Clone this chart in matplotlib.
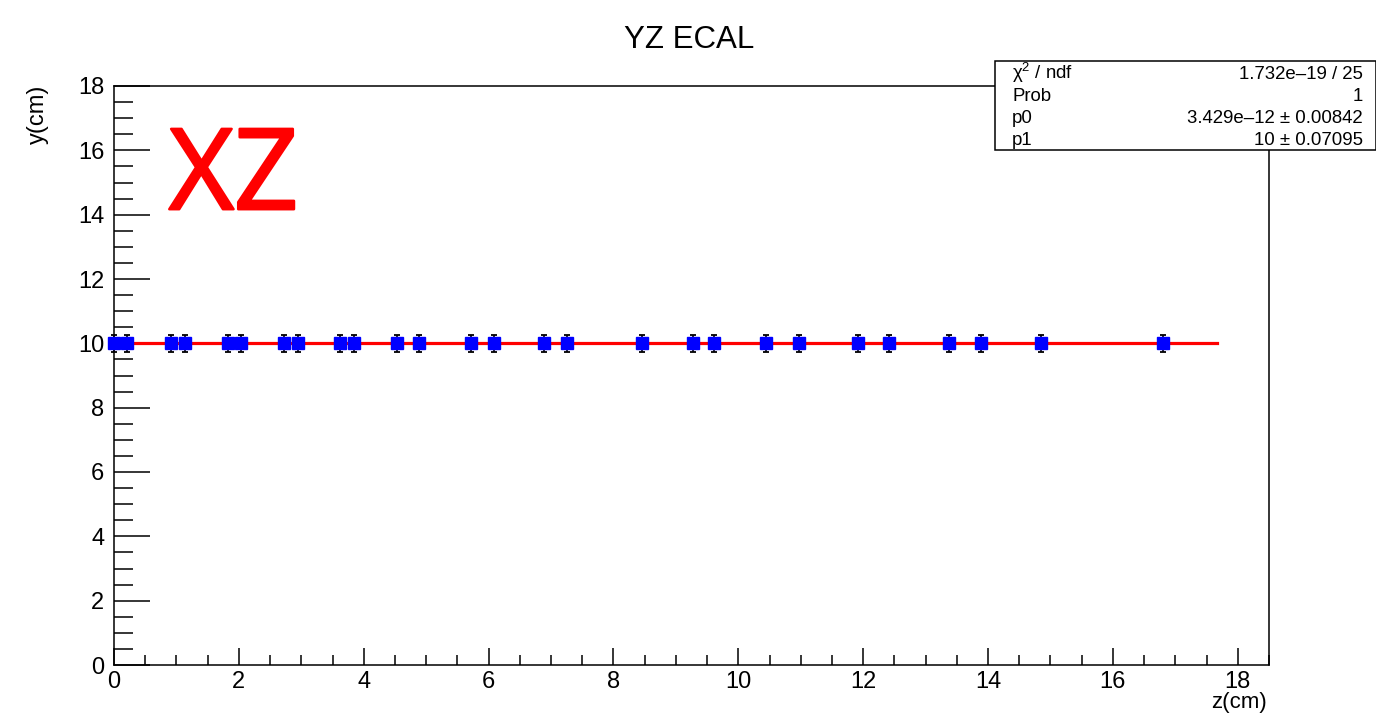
import matplotlib
matplotlib.use("Agg")
import matplotlib.pyplot as plt
import matplotlib.patheffects as pe
from matplotlib import font_manager
from matplotlib.patches import Rectangle
from matplotlib.ticker import MultipleLocator

# hit positions along z (cm) and y (cm)
z_pos = [0.0, 0.21, 0.91, 1.14, 1.83, 2.04, 2.72, 2.94, 3.62, 3.84,
         4.53, 4.89, 5.72, 6.09, 6.89, 7.25, 8.45, 9.28, 9.61, 10.44,
         10.97, 11.91, 12.42, 13.37, 13.89, 14.85, 16.80]
y_pos = [10.0] * len(z_pos)
y_err = [0.26] * len(z_pos)

# fit: y = p0*z + p1
p0 = 3.429e-12
p1 = 10.0
fit_range = [0.0, 17.67]

stats_names = [r"$\mathregular{\chi^{2}}$ / ndf", "Prob", "p0", "p1"]
stats_vals = ["1.732e\u201319 / 25", "1", "3.429e\u201312 \u00b1 0.00842", "10 \u00b1 0.07095"]

plt.rcParams["font.family"] = ["Liberation Sans", "DejaVu Sans"]


def pick_font(names):
    # look the font file up directly, prefer regular upright
    for want in names:
        hits = [f for f in font_manager.fontManager.ttflist
                if f.name == want and f.style == "normal"]
        if hits:
            hits.sort(key=lambda f: abs(int(f.weight) - 400) if str(f.weight).isdigit() else 100)
            return font_manager.FontProperties(fname=hits[0].fname, size=81)
    return font_manager.FontProperties(family="DejaVu Sans", size=81)


fig = plt.figure(figsize=(13.76, 7.13), dpi=100)
ax = fig.add_axes([114 / 1376, 1 - 665 / 713, (1269 - 114) / 1376, (665 - 86) / 713])

ax.set_xlim(0, 18.5)
ax.set_ylim(0, 18)

fit_y = [p0 * z + p1 for z in fit_range]
ax.plot(fit_range, fit_y, color="red", lw=2.3, zorder=3, clip_on=False)

line, caps, bars = ax.errorbar(z_pos, y_pos, yerr=y_err, fmt="s", color="blue",
                               ms=8.7, ecolor="black", elinewidth=1.2,
                               capsize=2.5, capthick=1.3, zorder=4, clip_on=False)
for c in caps:
    c.set_zorder(5)
for b in bars:
    b.set_zorder(3.5)

ax.xaxis.set_major_locator(MultipleLocator(2))
ax.xaxis.set_minor_locator(MultipleLocator(0.5))
ax.yaxis.set_major_locator(MultipleLocator(2))
ax.yaxis.set_minor_locator(MultipleLocator(0.5))
ax.tick_params(axis="both", which="both", direction="in", top=False, right=False,
               labelsize=17, width=1.1, color="black")
ax.tick_params(axis="x", which="major", length=12.5, pad=4)
ax.tick_params(axis="x", which="minor", length=7.5)
ax.tick_params(axis="y", which="major", length=26, pad=7)
ax.tick_params(axis="y", which="minor", length=13.5)
for s in ax.spines.values():
    s.set_linewidth(1.1)

fig.text(689.5 / 1376, 1 - 48 / 713, "YZ ECAL", ha="center", va="baseline", fontsize=22.5)
fig.text(1267 / 1376, 0.0, "z(cm)", ha="right", va="bottom", fontsize=16)
fig.text(37.5 / 1376, 1 - 85 / 713, "y(cm)", ha="center", va="top", rotation=90, fontsize=17)

xz_font = pick_font(["Open Sans", "Noto Sans"])
ax.text(0.88, 14.17, "XZ", color="red", fontproperties=xz_font,
        ha="left", va="baseline",
        path_effects=[pe.withStroke(linewidth=1.8, foreground="red")])

# stats box
box = Rectangle((995 / 1376, 1 - 150 / 713), (1376 - 995) / 1376, (150 - 61) / 713,
                transform=fig.transFigure, facecolor="white", edgecolor="black",
                lw=1.1, zorder=10)
fig.add_artist(box)
row_y = [79, 101, 123, 145]
for name, val, ry in zip(stats_names, stats_vals, row_y):
    fig.text(1012 / 1376, 1 - ry / 713, name, ha="left", va="baseline", fontsize=13.4, zorder=11)
    fig.text(1363 / 1376, 1 - ry / 713, val, ha="right", va="baseline", fontsize=13.4, zorder=11)

fig.savefig("out.png", dpi=100)
